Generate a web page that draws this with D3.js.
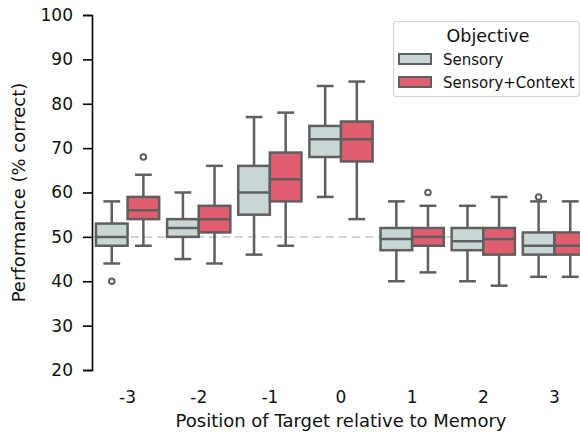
<!DOCTYPE html>
<html><head><meta charset="utf-8">
<script src="https://cdn.jsdelivr.net/npm/d3@7"></script>
<style>body{margin:0;background:#fff}svg{display:block;font-family:"DejaVu Sans",sans-serif}</style>
</head><body><svg id="c" width="580" height="437"></svg>
<script>
const categories = ["-3","-2","-1","0","1","2","3"];
const seriesNames = ["Sensory","Sensory+Context"];
const yTicks = [20,30,40,50,60,70,80,90,100];
// box stats per category
const sensoryLow    = [44,45,46,59,40,40,41];
const sensoryQ1     = [48,50,55,68,47,47,46];
const sensoryMedian = [50,52,60,72,49.5,49,48];
const sensoryQ3     = [53,54,66,75,52,52,51];
const sensoryHigh   = [58,60,77,84,58,57,58];
const sensoryOut    = [["-3",40],["3",59]];
const contextLow    = [48,44,48,54,42,39,41];
const contextQ1     = [54,51,58,67,48,46,46];
const contextMedian = [56,54,63,72,50,49.5,48];
const contextQ3     = [59,57,69,76,52,52,51];
const contextHigh   = [64,66,78,85,57,59,58];
const contextOut    = [["-3",68],["1",60]];
const chanceLevel = 50;

(function(){
const colors = {"Sensory":"#c8d6d5","Sensory+Context":"#e05e70"};
const lineCol = "#5f5f5f";

const svg = d3.select("#c");
const mLeft = 92, mTop = 15, mBottom = 370, plotRight = 590;
const x = d3.scaleBand().domain(categories).range([mLeft, plotRight]).paddingInner(0).paddingOuter(0);
const xs = d3.scaleBand().domain(seriesNames).range([0, x.bandwidth()]).paddingOuter(0.125).paddingInner(0);
const y = d3.scaleLinear().domain([20,100]).range([mBottom, mTop]);

svg.append("line").attr("x1", mLeft).attr("x2", 580).attr("y1", y(chanceLevel)).attr("y2", y(chanceLevel))
  .attr("stroke","#d3d3d3").attr("stroke-width",2).attr("stroke-dasharray","8,5");

const series = [
  {name:"Sensory", low:sensoryLow,q1:sensoryQ1,med:sensoryMedian,q3:sensoryQ3,high:sensoryHigh,out:sensoryOut},
  {name:"Sensory+Context", low:contextLow,q1:contextQ1,med:contextMedian,q3:contextQ3,high:contextHigh,out:contextOut}
];
const g = svg.append("g");
series.forEach(s => {
  categories.forEach((c,i) => {
    const x0 = x(c) + xs(s.name), w = xs.bandwidth(), cx = x0 + w/2;
    const cap = w/2;
    const gg = g.append("g").attr("stroke", lineCol).attr("stroke-width", 2.5);
    gg.append("line").attr("x1",cx).attr("x2",cx).attr("y1",y(s.q3[i])).attr("y2",y(s.high[i]));
    gg.append("line").attr("x1",cx).attr("x2",cx).attr("y1",y(s.q1[i])).attr("y2",y(s.low[i]));
    gg.append("line").attr("x1",cx-cap/2-0.5).attr("x2",cx+cap/2+0.5).attr("y1",y(s.high[i])).attr("y2",y(s.high[i]));
    gg.append("line").attr("x1",cx-cap/2-0.5).attr("x2",cx+cap/2+0.5).attr("y1",y(s.low[i])).attr("y2",y(s.low[i]));
    gg.append("rect").attr("x",x0).attr("width",w).attr("y",y(s.q3[i])).attr("height",y(s.q1[i])-y(s.q3[i]))
      .attr("fill",colors[s.name]);
    gg.append("line").attr("x1",x0).attr("x2",x0+w).attr("y1",y(s.med[i])).attr("y2",y(s.med[i]));
  });
  s.out.forEach(([c,v]) => {
    const cx = x(c) + xs(s.name) + xs.bandwidth()/2;
    g.append("circle").attr("cx",cx).attr("cy",y(v)).attr("r",2.8).attr("fill","none")
      .attr("stroke",lineCol).attr("stroke-width",2);
  });
});

const ya = svg.append("g").attr("transform",`translate(${mLeft},0)`)
  .call(d3.axisLeft(y).tickValues(yTicks).tickSize(9).tickPadding(10));
ya.selectAll("path").attr("stroke","#000").attr("stroke-width",1.6);
ya.selectAll("line").attr("stroke","#000").attr("stroke-width",1.6);
ya.selectAll("text").attr("font-size",17).attr("fill","#111").attr("font-family","DejaVu Sans");

const xa = svg.append("g").attr("transform",`translate(0,${mBottom})`)
  .call(d3.axisBottom(x).tickSize(0).tickPadding(21));
xa.select(".domain").remove();
xa.selectAll("text").attr("font-size",17).attr("fill","#111").attr("font-family","DejaVu Sans");

svg.append("text").attr("x",341).attr("y",427).attr("text-anchor","middle").attr("font-size",18)
  .attr("fill","#111").text("Position of Target relative to Memory");
svg.append("text").attr("transform",`translate(25,${(mTop+mBottom)/2}) rotate(-90)`).attr("text-anchor","middle")
  .attr("font-size",18).attr("fill","#111").text("Performance (% correct)");

const lg = svg.append("g");
lg.append("rect").attr("x",393.5).attr("y",21.5).attr("width",186).attr("height",75).attr("rx",3)
  .attr("fill","#fff").attr("fill-opacity",0.85).attr("stroke","#d5d5d5").attr("stroke-width",1.2);
lg.append("text").attr("x",488).attr("y",42).attr("text-anchor","middle").attr("font-size",17.5).attr("fill","#111").text("Objective");
seriesNames.forEach((n,i) => {
  const yy = 54 + i*23;
  lg.append("rect").attr("x",399).attr("y",yy).attr("width",32).attr("height",10)
    .attr("fill",colors[n]).attr("stroke",lineCol).attr("stroke-width",2);
  lg.append("text").attr("x",443).attr("y",yy+10.5).attr("font-size",15).attr("fill","#111").text(n);
});
})();
</script></body></html>
